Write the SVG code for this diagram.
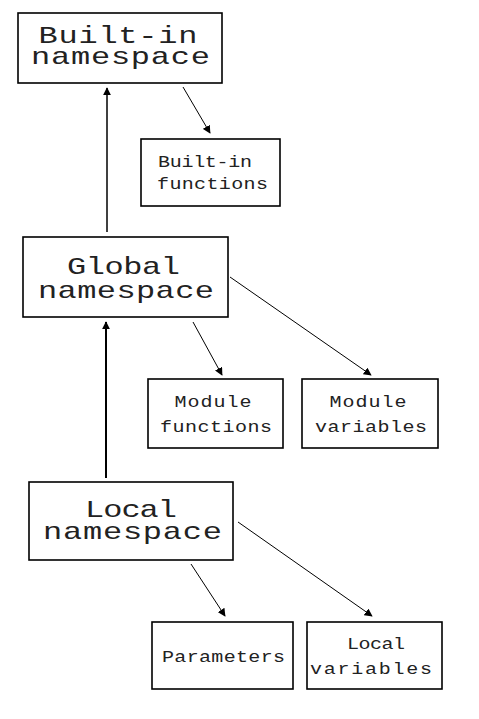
<svg xmlns="http://www.w3.org/2000/svg" width="479" height="719" viewBox="0 0 479 719">
<style>
.box{fill:#fff;stroke:#000;stroke-width:1.6}
.big{font-family:"Liberation Mono",monospace;font-size:32px;fill:#222;text-anchor:middle}
.small{font-family:"Liberation Mono",monospace;font-size:20px;fill:#222;text-anchor:middle}
.c{stroke:#000;fill:none}
</style>
<defs>
<marker id="ah" viewBox="0 0 10 10" refX="9" refY="5" markerWidth="8" markerHeight="8" markerUnits="userSpaceOnUse" orient="auto">
<path d="M0,0 L10,5 L0,10 z" fill="#000"/>
</marker>
</defs>
<rect width="479" height="719" fill="#fff"/>
<g id="connectors">
<line class="c" stroke-width="1.5" x1="107" y1="232" x2="107" y2="88" marker-end="url(#ah)"/>
<line class="c" stroke-width="2" x1="106" y1="478" x2="106" y2="322" marker-end="url(#ah)"/>
<line class="c" stroke-width="1" x1="183" y1="87" x2="210" y2="133" marker-end="url(#ah)"/>
<line class="c" stroke-width="1" x1="193" y1="322" x2="222" y2="375" marker-end="url(#ah)"/>
<line class="c" stroke-width="1" x1="230" y1="277" x2="371" y2="375" marker-end="url(#ah)"/>
<line class="c" stroke-width="1" x1="191" y1="564" x2="225" y2="616" marker-end="url(#ah)"/>
<line class="c" stroke-width="1" x1="238" y1="522" x2="372" y2="616" marker-end="url(#ah)"/>
</g>
<g id="builtin-namespace">
<rect class="box" x="18" y="13" width="204" height="70"/>
<text class="big" transform="translate(118,43) scale(1,0.75)" textLength="159" lengthAdjust="spacing">Built-in</text>
<text class="big" transform="translate(120.5,64) scale(1,0.75)" textLength="179" lengthAdjust="spacing">namespace</text>
</g>
<g id="builtin-functions">
<rect class="box" x="141" y="139" width="139" height="67"/>
<text class="small" transform="translate(205,167) scale(1,0.8)" textLength="94" lengthAdjust="spacing">Built-in</text>
<text class="small" transform="translate(212.5,189) scale(1,0.8)" textLength="111" lengthAdjust="spacing">functions</text>
</g>
<g id="global-namespace">
<rect class="box" x="23" y="237" width="205" height="80"/>
<text class="big" transform="translate(123.5,274) scale(1,0.75)" textLength="113" lengthAdjust="spacing">Global</text>
<text class="big" transform="translate(126,298) scale(1,0.75)" textLength="176" lengthAdjust="spacing">namespace</text>
</g>
<g id="module-functions">
<rect class="box" x="148" y="379" width="135" height="69"/>
<text class="small" transform="translate(213,407) scale(1,0.8)" textLength="77" lengthAdjust="spacing">Module</text>
<text class="small" transform="translate(216,432) scale(1,0.8)" textLength="112" lengthAdjust="spacing">functions</text>
</g>
<g id="module-variables">
<rect class="box" x="302" y="379" width="136" height="69"/>
<text class="small" transform="translate(368,407) scale(1,0.8)" textLength="77" lengthAdjust="spacing">Module</text>
<text class="small" transform="translate(371,432) scale(1,0.8)" textLength="112" lengthAdjust="spacing">variables</text>
</g>
<g id="local-namespace">
<rect class="box" x="29" y="482" width="204" height="78"/>
<text class="big" transform="translate(131,517) scale(1,0.75)" textLength="92" lengthAdjust="spacing">Local</text>
<text class="big" transform="translate(132.5,539) scale(1,0.75)" textLength="179" lengthAdjust="spacing">namespace</text>
</g>
<g id="parameters">
<rect class="box" x="152" y="622" width="141" height="67"/>
<text class="small" transform="translate(223.5,662) scale(1,0.8)" textLength="123" lengthAdjust="spacing">Parameters</text>
</g>
<g id="local-variables">
<rect class="box" x="307" y="622" width="135" height="67"/>
<text class="small" transform="translate(376,649) scale(1,0.8)" textLength="58" lengthAdjust="spacing">Local</text>
<text class="small" transform="translate(371,674) scale(1,0.8)" textLength="122" lengthAdjust="spacing">variables</text>
</g>
</svg>
